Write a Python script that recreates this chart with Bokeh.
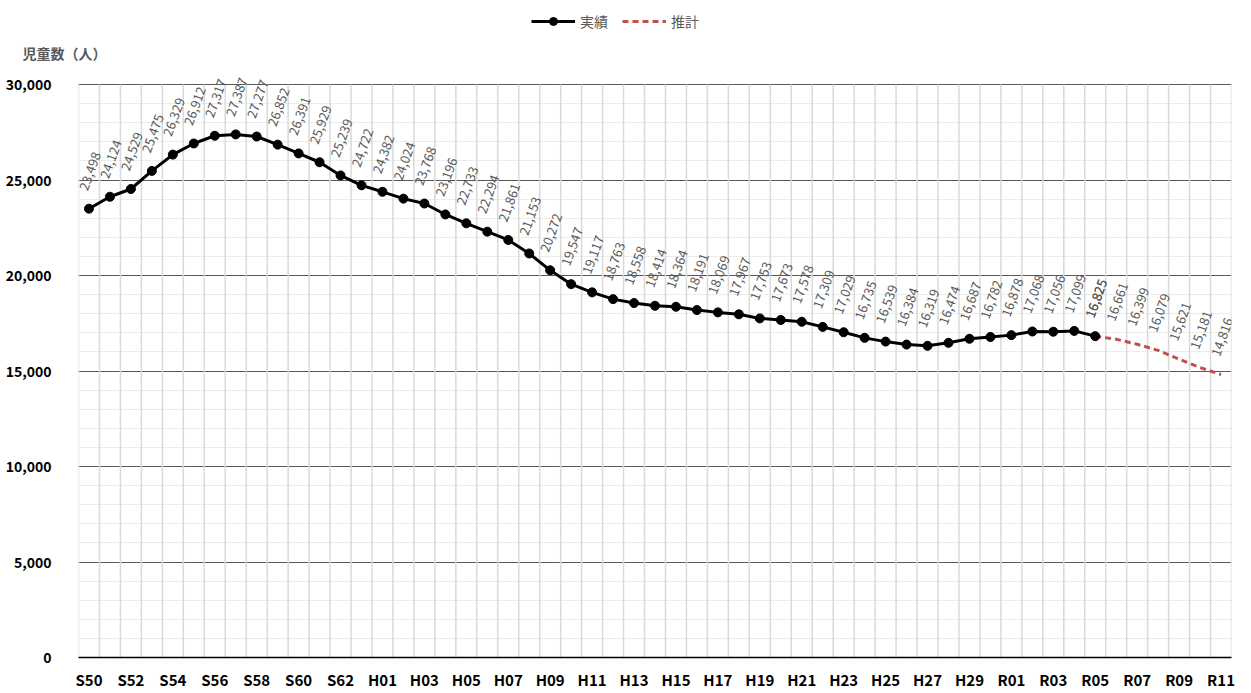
from bokeh.plotting import figure
from bokeh.layouts import column
from bokeh.models import (Range1d, FixedTicker, NumeralTickFormatter, Legend, LegendItem,
                          Label, LabelSet, ColumnDataSource)
from bokeh.core.properties import value
from bokeh.embed import file_html
from bokeh.resources import INLINE

years = (["S%02d" % y for y in range(50, 64)] +
         ["H%02d" % y for y in range(1, 31)] +
         ["R%02d" % y for y in range(1, 12)])

actual = [23498, 24124, 24529, 25475, 26329, 26912, 27317, 27387, 27277, 26852,
          26391, 25929, 25239, 24722, 24382, 24024, 23768, 23196, 22733, 22294,
          21861, 21153, 20272, 19547, 19117, 18763, 18558, 18414, 18364, 18191,
          18069, 17967, 17753, 17673, 17578, 17309, 17029, 16735, 16539, 16384,
          16319, 16474, 16687, 16782, 16878, 17068, 17056, 17099, 16825]
projection = [16825, 16661, 16399, 16079, 15621, 15181, 14816]
series_names = ["実績", "推計"]
y_title = "児童数（人）"

y_ticks = [0, 5000, 10000, 15000, 20000, 25000, 30000]
y_max = 30000

xa = list(range(len(actual)))
xp = list(range(len(actual) - 1, len(actual) - 1 + len(projection)))

FONT = "Noto Sans CJK JP"
W = 1243
HEAD = 64         # height of header strip (legend + y title)
H = 693 - HEAD
BOTTOM = 36
frame_h = H - BOTTOM
y_end = y_max * frame_h / (frame_h - (84 - HEAD))
red = "#C0504D"
nan = float("nan")

# ---------- header: legend + y-axis title ----------
head = figure(width=W, height=HEAD, output_backend="svg", toolbar_location=None,
              x_range=Range1d(0, W), y_range=Range1d(0, HEAD),
              min_border_left=0, min_border_right=0, min_border_top=0, min_border_bottom=0)
head.frame_align = False
head.axis.visible = False
head.grid.visible = False
head.outline_line_color = None
hl = head.line([nan], [nan], line_color="black", line_width=3)
hm = head.scatter([nan], [nan], size=9, fill_color="black", line_color="black")
hp = head.line([nan], [nan], line_color=red, line_width=3, line_dash="6 4")
legend = Legend(items=[LegendItem(label=series_names[0], renderers=[hl, hm]),
                       LegendItem(label=series_names[1], renderers=[hp])],
                orientation="horizontal", location=(531, 33),
                border_line_color=None, background_fill_alpha=0,
                label_text_font=FONT, label_text_font_size="14px",
                label_text_color="#595959", glyph_width=44, spacing=14,
                padding=4, margin=0)
head.add_layout(legend)
head.add_layout(Label(x=22, y=12, x_units="screen", y_units="screen", text=y_title,
                      text_baseline="middle", text_font=FONT, text_font_size="14px",
                      text_font_style="bold", text_color="#595959"))

# ---------- main chart ----------
p = figure(width=W, height=H, output_backend="svg", toolbar_location=None,
           x_range=Range1d(-0.5, len(years) - 0.5), y_range=Range1d(0, y_end),
           min_border_left=78, min_border_right=12, min_border_top=0,
           min_border_bottom=BOTTOM)
p.frame_align = False
p.outline_line_color = None
p.background_fill_color = "white"

p.xgrid.visible = False
bounds = [i - 0.5 for i in range(len(years) + 1)]
p.segment(x0=bounds, y0=[0] * len(bounds), x1=bounds, y1=[y_max] * len(bounds),
          line_color="#d9d9d9", line_width=1.5)
p.ygrid.ticker = FixedTicker(ticks=y_ticks, minor_ticks=list(range(0, y_max + 1, 1000)))
p.ygrid.grid_line_color = "#595959"
p.ygrid.grid_line_width = 1
p.ygrid.minor_grid_line_color = "#ececec"
p.ygrid.minor_grid_line_width = 1

p.xaxis.ticker = FixedTicker(ticks=list(range(0, len(years), 2)))
p.xaxis.major_label_overrides = {i: years[i] for i in range(0, len(years), 2)}
p.xaxis.axis_line_color = "black"
p.xaxis.axis_line_width = 1.5
p.xaxis.major_tick_line_color = None
p.xaxis.minor_tick_line_color = None
p.xaxis.major_label_standoff = 5
p.xaxis.major_label_text_font = FONT
p.xaxis.major_label_text_font_style = "bold"
p.xaxis.major_label_text_font_size = "15px"
p.xaxis.major_label_text_color = "black"

p.yaxis.ticker = FixedTicker(ticks=y_ticks)
p.yaxis.formatter = NumeralTickFormatter(format="0,0")
p.yaxis.axis_line_color = None
p.yaxis.major_tick_line_color = None
p.yaxis.minor_tick_line_color = None
p.yaxis.major_label_standoff = 21
p.yaxis.major_label_text_font = FONT
p.yaxis.major_label_text_font_style = "bold"
p.yaxis.major_label_text_font_size = "14px"
p.yaxis.major_label_text_color = "black"

p.line(xp, projection, line_color=red, line_width=3, line_dash="6 4")
p.line(xa, actual, line_color="black", line_width=3)
p.scatter(xa, actual, size=9, fill_color="black", line_color="black")

fmt = lambda v: f"{v:,}"
src_a = ColumnDataSource(dict(x=xa, y=actual, t=[fmt(v) for v in actual]))
src_p = ColumnDataSource(dict(x=xp, y=projection, t=[fmt(v) for v in projection]))
for src in (src_a, src_p):
    p.add_layout(LabelSet(x="x", y="y", text="t", source=src, angle=1.22,
                          text_align="left", text_baseline="middle",
                          x_offset=-6, y_offset=19,
                          text_font=value(FONT), text_font_size="13px",
                          text_color="#595959"))

layout = column(head, p, spacing=0)
open("out.html", "w").write(file_html(layout, INLINE))
